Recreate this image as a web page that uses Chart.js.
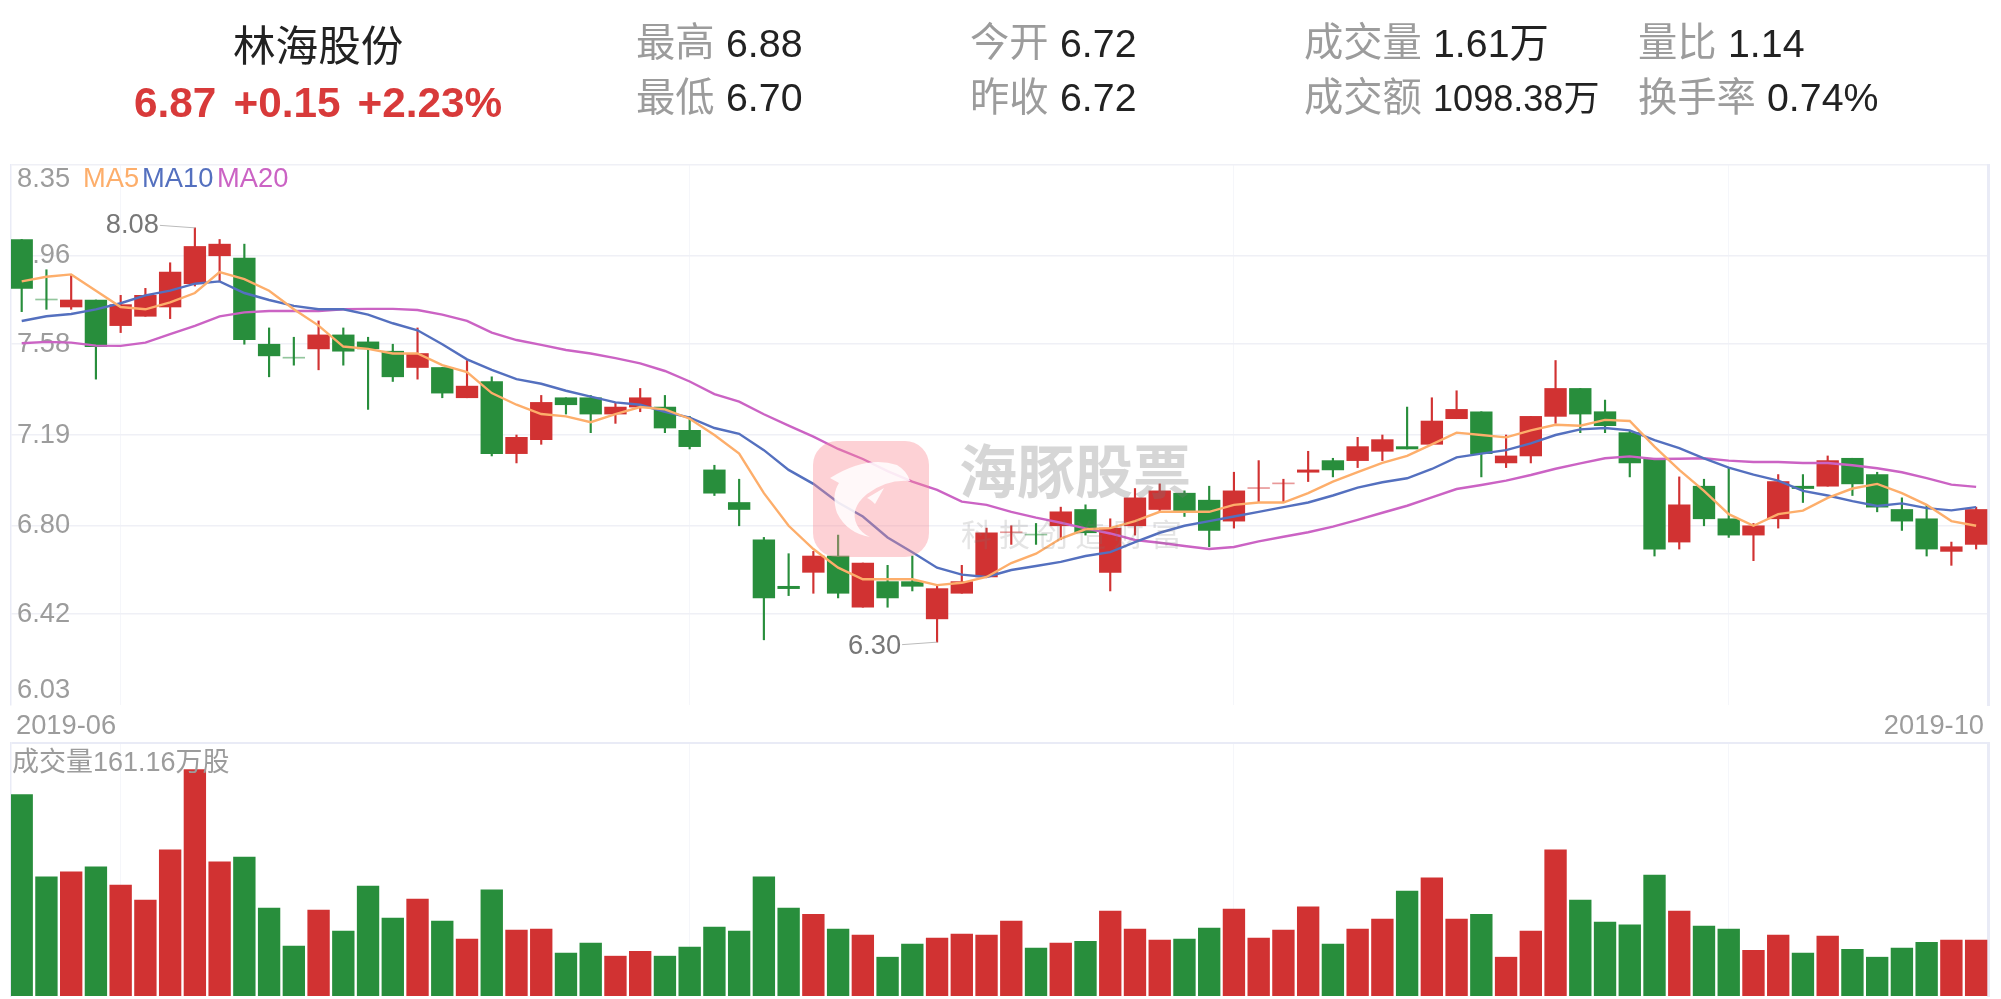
<!DOCTYPE html>
<html lang="zh">
<head>
<meta charset="utf-8">
<title>林海股份</title>
<script src="https://cdn.jsdelivr.net/npm/chart.js@4/dist/chart.umd.js"></script>
<style>
    html, body { margin: 0; padding: 0; background: #fff; width: 2001px; height: 999px; overflow: hidden; }
    body { position: relative; font-family: "Liberation Sans", "Noto Sans CJK SC", sans-serif; }
    canvas { position: absolute; left: 0; display: block; }
    .txt { position: absolute; white-space: nowrap; transform: translateY(-50%); line-height: 1; }
    #watermark { position: absolute; left: 0; top: 0; pointer-events: none; }
</style>
</head>
<body>
<canvas id="priceChart" width="2001" height="743" style="top:0"></canvas>
<canvas id="volumeChart" width="2001" height="264" style="top:735px"></canvas>
<div id="watermark"></div>
<script>
const COLORS = {
    red: '#d13232',
    green: '#288e3c',
    ma5: '#fdae6b',
    ma10: '#5470bf',
    ma20: '#cb63c4',
    grid: '#eff0f6',
    gridFaint: '#f5f6fa',
    border: '#e9ebf6',
    label: '#9c9c9c',
    value: '#222222',
    mark: '#777777',
    quote: '#d83a3a'
};

const opens = [
    8.03, 7.77, 7.74, 7.77, 7.66, 7.70, 7.74, 7.84, 7.96, 7.95,
    7.58, 7.52, 7.56, 7.62, 7.59, 7.55, 7.48, 7.48, 7.35, 7.42,
    7.11, 7.17, 7.35, 7.35, 7.28, 7.31, 7.31, 7.21, 7.04, 6.90,
    6.74, 6.54, 6.60, 6.67, 6.45, 6.56, 6.56, 6.40, 6.51, 6.58,
    6.77, 6.76, 6.80, 6.87, 6.60, 6.80, 6.87, 6.94, 6.91, 6.82,
    6.96, 6.98, 7.03, 7.08, 7.08, 7.12, 7.14, 7.15, 7.26, 7.29,
    7.07, 7.10, 7.27, 7.39, 7.29, 7.20, 7.09, 6.73, 6.97, 6.83,
    6.76, 6.83, 6.97, 6.97, 7.09, 7.02, 6.87, 6.83, 6.69, 6.72
];
const closes = [
    7.82, 7.77, 7.77, 7.57, 7.75, 7.79, 7.89, 8.00, 8.01, 7.60,
    7.53, 7.52, 7.62, 7.55, 7.56, 7.44, 7.54, 7.37, 7.40, 7.11,
    7.18, 7.33, 7.32, 7.28, 7.31, 7.35, 7.22, 7.14, 6.94, 6.87,
    6.49, 6.53, 6.67, 6.51, 6.64, 6.49, 6.54, 6.53, 6.56, 6.77,
    6.77, 6.76, 6.86, 6.77, 6.79, 6.92, 6.95, 6.86, 6.78, 6.95,
    6.96, 6.98, 7.04, 7.04, 7.14, 7.17, 7.13, 7.25, 7.30, 7.11,
    7.10, 7.27, 7.39, 7.28, 7.23, 7.07, 6.70, 6.89, 6.83, 6.76,
    6.80, 6.99, 6.96, 7.08, 6.98, 6.88, 6.82, 6.70, 6.71, 6.87
];
const highs = [
    8.03, 7.90, 7.88, 7.77, 7.79, 7.82, 7.93, 8.08, 8.03, 8.01,
    7.65, 7.61, 7.68, 7.65, 7.61, 7.58, 7.65, 7.48, 7.51, 7.44,
    7.19, 7.36, 7.35, 7.36, 7.33, 7.39, 7.36, 7.27, 7.06, 7.00,
    6.75, 6.68, 6.69, 6.76, 6.64, 6.63, 6.67, 6.54, 6.63, 6.79,
    6.80, 6.81, 6.88, 6.89, 6.83, 6.96, 6.98, 6.95, 6.97, 7.03,
    7.08, 7.00, 7.12, 7.09, 7.18, 7.19, 7.31, 7.35, 7.38, 7.29,
    7.19, 7.27, 7.51, 7.39, 7.34, 7.21, 7.09, 7.01, 7.00, 7.05,
    6.81, 7.02, 7.02, 7.10, 7.09, 7.03, 6.92, 6.89, 6.73, 6.88
];
const lows = [
    7.72, 7.73, 7.73, 7.43, 7.63, 7.70, 7.69, 7.83, 7.85, 7.58,
    7.44, 7.49, 7.47, 7.49, 7.30, 7.42, 7.43, 7.35, 7.35, 7.10,
    7.07, 7.15, 7.28, 7.20, 7.24, 7.29, 7.20, 7.13, 6.93, 6.80,
    6.31, 6.50, 6.51, 6.49, 6.45, 6.45, 6.52, 6.30, 6.51, 6.58,
    6.72, 6.72, 6.74, 6.76, 6.52, 6.76, 6.86, 6.84, 6.71, 6.79,
    6.90, 6.90, 6.99, 7.01, 7.05, 7.08, 7.13, 7.15, 7.26, 7.01,
    7.05, 7.07, 7.24, 7.20, 7.20, 7.01, 6.67, 6.70, 6.80, 6.75,
    6.65, 6.79, 6.90, 6.97, 6.93, 6.86, 6.78, 6.67, 6.63, 6.70
];
const ma5 = [
    7.85, 7.87, 7.88, 7.81, 7.74, 7.73, 7.76, 7.80, 7.89, 7.86,
    7.81, 7.73, 7.66, 7.57, 7.56, 7.54, 7.54, 7.49, 7.46, 7.37,
    7.32, 7.28, 7.27, 7.245, 7.28, 7.31, 7.30, 7.26, 7.19, 7.11,
    6.94, 6.80, 6.70, 6.62, 6.57, 6.57, 6.57, 6.545, 6.555, 6.58,
    6.64, 6.68, 6.745, 6.785, 6.79, 6.82, 6.86, 6.86, 6.86, 6.89,
    6.90, 6.90, 6.94, 6.99, 7.03, 7.07, 7.10, 7.15, 7.20, 7.19,
    7.18, 7.21, 7.234, 7.23, 7.255, 7.25, 7.14, 7.04, 6.95, 6.85,
    6.80, 6.85, 6.865, 6.92, 6.96, 6.98, 6.94, 6.89, 6.82, 6.80
];
const ma10 = [
    7.68, 7.70, 7.71, 7.73, 7.756, 7.79, 7.81, 7.84, 7.85, 7.80,
    7.77, 7.745, 7.73, 7.73, 7.707, 7.67, 7.64, 7.58, 7.515, 7.47,
    7.43, 7.41, 7.38, 7.355, 7.33, 7.32, 7.29, 7.265, 7.22, 7.195,
    7.125, 7.04, 6.98, 6.90, 6.84, 6.75, 6.686, 6.62, 6.59, 6.58,
    6.61, 6.627, 6.645, 6.67, 6.687, 6.73, 6.77, 6.80, 6.82, 6.84,
    6.86, 6.88, 6.90, 6.93, 6.964, 6.987, 7.004, 7.044, 7.094, 7.11,
    7.125, 7.154, 7.19, 7.214, 7.22, 7.21, 7.168, 7.134, 7.09, 7.05,
    7.02, 6.994, 6.95, 6.93, 6.906, 6.885, 6.896, 6.876, 6.866, 6.88
];
const ma20 = [
    7.584, 7.59, 7.587, 7.574, 7.573, 7.587, 7.623, 7.659, 7.70, 7.717,
    7.723, 7.723, 7.723, 7.73, 7.732, 7.732, 7.727, 7.707, 7.68, 7.63,
    7.598, 7.577, 7.555, 7.54, 7.52, 7.498, 7.465, 7.42, 7.366, 7.333,
    7.279, 7.23, 7.183, 7.13, 7.087, 7.035, 6.99, 6.954, 6.904, 6.89,
    6.86, 6.835, 6.813, 6.789, 6.767, 6.739, 6.727, 6.713, 6.70, 6.709,
    6.733, 6.753, 6.772, 6.796, 6.825, 6.856, 6.886, 6.922, 6.958, 6.975,
    6.994, 7.018, 7.045, 7.068, 7.09, 7.098, 7.087, 7.088, 7.09, 7.08,
    7.074, 7.074, 7.07, 7.07, 7.06, 7.047, 7.03, 7.005, 6.977, 6.967
];
// volume in 万股
const volumes = [
    581, 343.5, 358, 372.5, 320, 277, 422, 653, 387, 401,
    254, 144, 248, 187, 317.5, 225, 280, 216, 164, 306,
    190, 193, 123.5, 152.5, 115, 129, 115, 141, 199, 187,
    343.5, 254, 236, 193, 176, 112, 150, 167, 178.5, 176,
    216, 138, 152.5, 158, 245, 193, 161, 164, 196, 251,
    167, 190, 257, 150, 193, 222, 303, 341, 222, 236,
    112, 187, 422, 277, 213, 205, 349, 245, 202, 193,
    132, 176, 123.5, 173, 135, 112, 138, 155, 161, 161.16
];
const priceTicks = [6.03, 6.42, 6.80, 7.19, 7.58, 7.96, 8.35];
const dateLabels = ['2019-06', '2019-10'];
const monthStarts = [4, 27, 49, 69];

// up / down colour, a doji takes its colour from the previous close
const candleColors = closes.map((c, i) => {
    if (c > opens[i]) return COLORS.red;
    if (c < opens[i]) return COLORS.green;
    return i > 0 && c < closes[i - 1] ? COLORS.green : COLORS.red;
});
// doji bodies are only a hairline in the picture, so paler
const bodyColors = candleColors.map((c, i) => opens[i] === closes[i] ? c + '80' : c);

const toPoints = (arr) => arr.map((v, i) => ({ x: i, y: v }));
const toRange = (a, b) => a.map((v, i) => ({ x: i, y: [v, b[i]] }));

Chart.defaults.font.family = '"Liberation Sans", "Noto Sans CJK SC", sans-serif';
Chart.defaults.font.size = 27.3;

const xRange = { min: -0.4325, max: 79.48 };
const BAR_WIDTH = 21.7;

function monthAxis() {
    return {
        type: 'linear',
        offset: false,
        min: xRange.min,
        max: xRange.max,
        afterBuildTicks: (s) => { s.ticks = monthStarts.map(v => ({ value: v })); },
        afterFit: (s) => { s.height = 0; },
        ticks: { display: false, autoSkip: false },
        border: { display: false },
        grid: { color: COLORS.gridFaint, lineWidth: 1, drawTicks: false, offset: false }
    };
}

function rightEdge() {
    return {
        type: 'linear',
        position: 'right',
        min: 0,
        max: 1,
        afterFit: (s) => { s.width = 0; },
        ticks: { display: false },
        grid: { display: false },
        border: { display: true, color: COLORS.border, width: 3 }
    };
}

function lineSet(label, values, color) {
    return {
        type: 'line',
        label: label,
        data: toPoints(values),
        borderColor: color,
        borderWidth: 2.4,
        pointRadius: 0,
        tension: 0,
        order: 0
    };
}

// leader line and text for the highest / lowest price
const extremeMarks = {
    id: 'extremeMarks',
    afterDatasetsDraw(chart) {
        const { ctx, scales } = chart;
        const mark = (i, value, textDy, lineDy) => {
            const x = scales.x.getPixelForValue(i);
            const y = scales.y.getPixelForValue(value);
            ctx.save();
            ctx.strokeStyle = '#bbbbbb';
            ctx.lineWidth = 1;
            ctx.beginPath();
            ctx.moveTo(x - 35, y + lineDy);
            ctx.lineTo(x, y);
            ctx.stroke();
            ctx.fillStyle = COLORS.mark;
            ctx.font = '27.3px "Liberation Sans"';
            ctx.textAlign = 'right';
            ctx.textBaseline = 'middle';
            ctx.fillText(value.toFixed(2), x - 36, y + textDy);
            ctx.restore();
        };
        mark(7, highs[7], -2, -2.5);
        mark(37, lows[37], 4, 2.5);
    }
};

new Chart(document.getElementById('priceChart'), {
    type: 'bar',
    data: {
        datasets: [
            lineSet('MA5', ma5, COLORS.ma5),
            lineSet('MA10', ma10, COLORS.ma10),
            lineSet('MA20', ma20, COLORS.ma20),
            {
                label: 'body',
                data: toRange(opens, closes),
                backgroundColor: bodyColors,
                barThickness: BAR_WIDTH,
                minBarLength: 1,
                grouped: false,
                order: 1
            },
            {
                label: 'wick',
                data: toRange(lows, highs),
                backgroundColor: candleColors,
                barThickness: 1.5,
                grouped: false,
                order: 2
            }
        ]
    },
    options: {
        responsive: false,
        animation: false,
        layout: { padding: { left: 11, right: 13, top: 165, bottom: 0 } },
        plugins: { legend: { display: false }, tooltip: { enabled: false } },
        scales: {
            x: monthAxis(),
            xDates: {
                type: 'linear',
                position: 'bottom',
                offset: false,
                min: xRange.min,
                max: xRange.max,
                afterBuildTicks: (s) => { s.ticks = [{ value: -0.23 }, { value: 79.32 }]; },
                afterFit: (s) => { s.height = 38; },
                ticks: {
                    align: 'inner',
                    autoSkip: false,
                    maxRotation: 0,
                    padding: 5,
                    color: COLORS.label,
                    callback: (v, i) => dateLabels[i]
                },
                border: { display: false },
                grid: { display: false, drawTicks: false }
            },
            y: {
                min: 6.03,
                max: 8.35,
                afterBuildTicks: (s) => { s.ticks = priceTicks.map(v => ({ value: v })); },
                afterFit: (s) => { s.width = 0; },
                ticks: {
                    mirror: true,
                    padding: 6,
                    labelOffset: 0,
                    autoSkip: false,
                    color: COLORS.label,
                    font: { lineHeight: 1.05 },
                    // the top and bottom labels sit inside the plot
                    callback: (v, i) => {
                        const text = v.toFixed(2);
                        if (i === 0) return [text, ''];
                        if (i === priceTicks.length - 1) return ['', text];
                        return text;
                    }
                },
                border: { display: true, color: COLORS.border, width: 1.5 },
                grid: {
                    drawTicks: false,
                    lineWidth: 1.5,
                    color: (c) => c.index === 0 ? 'rgba(0,0,0,0)' : COLORS.grid
                }
            },
            yEdge: rightEdge()
        }
    },
    plugins: [extremeMarks]
});

new Chart(document.getElementById('volumeChart'), {
    type: 'bar',
    data: {
        datasets: [{
            label: '成交量',
            data: toPoints(volumes),
            backgroundColor: candleColors,
            barThickness: BAR_WIDTH,
            grouped: false
        }]
    },
    options: {
        responsive: false,
        animation: false,
        layout: { padding: { left: 11, right: 13, top: 8, bottom: 3 } },
        plugins: { legend: { display: false }, tooltip: { enabled: false } },
        scales: {
            x: monthAxis(),
            y: {
                min: 0,
                max: 730,
                afterBuildTicks: (s) => { s.ticks = [{ value: 730 }]; },
                afterFit: (s) => { s.width = 0; },
                ticks: { display: false },
                border: { display: true, color: COLORS.border, width: 1.5 },
                grid: { drawTicks: false, lineWidth: 2, color: COLORS.border }
            },
            yEdge: rightEdge()
        }
    }
});

// header, legend and volume caption are plain page text
function put(text, x, cy, size, color, weight) {
    const el = document.createElement('div');
    el.className = 'txt';
    el.textContent = text;
    el.style.left = x + 'px';
    el.style.top = cy + 'px';
    el.style.fontSize = size + 'px';
    el.style.color = color;
    if (weight) el.style.fontWeight = weight;
    document.body.insertBefore(el, document.getElementById('watermark'));
    return el;
}

put('林海股份', 233, 46, 42.6, COLORS.value);
put('6.87', 134, 103, 42.3, COLORS.quote, 'bold');
put('+0.15', 233.5, 103, 42.3, COLORS.quote, 'bold');
put('+2.23%', 357.5, 103, 42.3, COLORS.quote, 'bold');

put('最高', 636, 43, 39.3, COLORS.label);
put('6.88', 726, 44, 39.3, COLORS.value);
put('最低', 636, 98, 39.3, COLORS.label);
put('6.70', 726, 98, 39.3, COLORS.value);
put('今开', 970, 43, 39.3, COLORS.label);
put('6.72', 1060, 44, 39.3, COLORS.value);
put('昨收', 970, 98, 39.3, COLORS.label);
put('6.72', 1060, 98, 39.3, COLORS.value);
put('成交量', 1304, 43, 39.3, COLORS.label);
put('1.61万', 1433, 44, 39.3, COLORS.value);
put('成交额', 1304, 98, 39.3, COLORS.label);
put('1098.38万', 1433, 99, 36.1, COLORS.value);
put('量比', 1638, 43, 39.3, COLORS.label);
put('1.14', 1728, 44, 39.3, COLORS.value);
put('换手率', 1638, 98, 39.3, COLORS.label);
put('0.74%', 1767, 98, 39.3, COLORS.value);

put('MA5', 83, 178, 27.3, COLORS.ma5);
put('MA10', 142, 178, 27.3, COLORS.ma10);
put('MA20', 217, 178, 27.3, COLORS.ma20);
put('成交量' + volumes[volumes.length - 1] + '万股', 12, 762, 27, COLORS.label);

// watermark lies over the marks
document.getElementById('watermark').innerHTML = `
<svg width="116" height="116" viewBox="0 0 116 116" style="position:absolute;left:813px;top:441px">
  <rect width="116" height="116" rx="24" fill="rgba(251,140,150,0.4)"/>
  <path d="M17 37 Q54 14 84 24 Q94 30 97 40 Q74 38 54 53 Q36 68 44 84 Q48 92 57 96 Q34 92 24 72 Q18 54 26 42 Z" fill="rgba(255,255,255,0.85)"/>
  <path d="M54 57 L71 47 L62 63 Q57 58 54 57 Z" fill="rgba(255,255,255,0.85)"/>
</svg>
<div class="txt" style="left:959px;top:473px;font-size:58px;font-weight:bold;color:rgba(120,120,120,0.3);transform:translateY(-50%)">海豚股票</div>
<div class="txt" style="left:961px;top:535px;font-size:31px;letter-spacing:7px;color:rgba(120,120,120,0.2);transform:translateY(-50%)">科技创造财富</div>`;
</script>
</body>
</html>
